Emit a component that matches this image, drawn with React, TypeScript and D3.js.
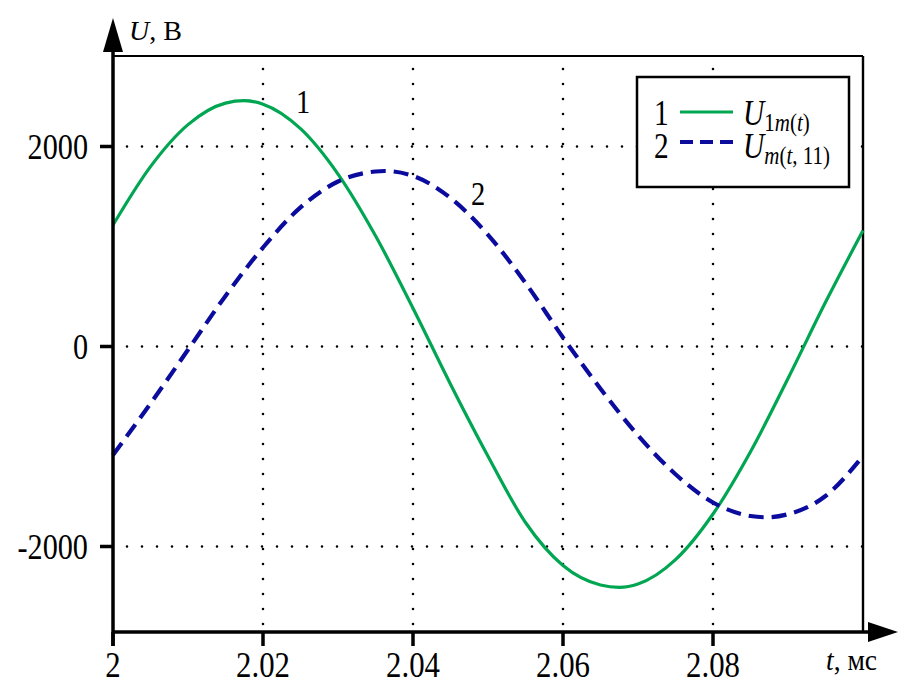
import * as d3 from 'd3';

// time points (ms) and voltage (V)
const tGreen = [2.0, 2.005, 2.01, 2.015, 2.0175, 2.02, 2.025, 2.03, 2.035, 2.04, 2.045, 2.05, 2.055, 2.06, 2.065, 2.0675, 2.07, 2.075, 2.08, 2.085, 2.09, 2.095, 2.1];
const uGreen = [1215, 1799, 2219, 2434, 2458, 2423, 2178, 1724, 1107, 383, -377, -1097, -1760, -2190, -2385, -2408, -2375, -2132, -1675, -1052, -320, 442, 1159];

const tBlue = [2.0, 2.005, 2.01, 2.015, 2.02, 2.025, 2.03, 2.035, 2.0362, 2.04, 2.045, 2.05, 2.055, 2.06, 2.065, 2.07, 2.075, 2.08, 2.085, 2.0872, 2.09, 2.095, 2.1];
const uBlue = [-1085, -570, -33, 506, 990, 1391, 1650, 1750, 1755, 1706, 1485, 1117, 635, 90, -422, -889, -1277, -1560, -1695, -1708, -1677, -1495, -1095];

const xTicks = [2, 2.02, 2.04, 2.06, 2.08];
const xTickLabels = ['2', '2.02', '2.04', '2.06', '2.08'];
const yTicks = [2000, 0, -2000];
const yTickLabels = ['2000', '0', '-2000'];

const GREEN = '#00a651';
const BLUE = '#0b0b9e';
const FONT = 'Liberation Serif';

function T({ x, y, size, anchor = 'start', sx = 0.84, children }: any) {
  return (
    <text
      transform={`translate(${x},${y}) scale(${sx},1)`}
      style={{ fontFamily: FONT, fontSize: size }}
      textAnchor={anchor}
      fill="#000"
    >
      {children}
    </text>
  );
}

export default function App() {
  const width = 906;
  const height = 683;
  const left = 113;
  const right = 863;
  const top = 56;
  const bottom = 632;

  const x = d3.scaleLinear().domain([2, 2.1]).range([left, right]);
  const y = d3.scaleLinear().domain([-2000, 2000]).range([546.5, 146.5]);

  const line = d3
    .line<[number, number]>()
    .x((d) => x(d[0]))
    .y((d) => y(d[1]))
    .curve(d3.curveMonotoneX);

  const greenPts = tGreen.map((t, i) => [t, uGreen[i]] as [number, number]);
  const bluePts = tBlue.map((t, i) => [t, uBlue[i]] as [number, number]);

  return (
    <svg width={width} height={height} style={{ position: 'absolute', left: 0, top: 0, background: '#fff' }}>
      {/* dotted grid */}
      <g stroke="#000" strokeWidth={2.6} strokeLinecap="round" strokeDasharray="0 15">
        {xTicks.slice(1).map((t) => (
          <line key={'gx' + t} x1={x(t)} x2={x(t)} y1={bottom - 8} y2={top + 2} />
        ))}
        {yTicks.map((v) => (
          <line key={'gy' + v} x1={left + 14} x2={right} y1={y(v)} y2={y(v)} />
        ))}
      </g>

      {/* frame top and right */}
      <line x1={left} x2={right} y1={top} y2={top} stroke="#000" strokeWidth={2.2} />
      <line x1={right} x2={right} y1={top} y2={bottom} stroke="#000" strokeWidth={2.4} />

      {/* curves */}
      <path d={line(greenPts) || ''} fill="none" stroke={GREEN} strokeWidth={3.2} />
      <path d={line(bluePts) || ''} fill="none" stroke={BLUE} strokeWidth={4.2} strokeDasharray="15 8" />

      {/* axes */}
      <line x1={left} x2={left} y1={bottom + 14} y2={48} stroke="#000" strokeWidth={3.5} />
      <path d={`M${left},18 L${left - 10},52 L${left + 10},52 Z`} fill="#000" />
      <line x1={left} x2={872} y1={bottom} y2={bottom} stroke="#000" strokeWidth={3.5} />
      <path d={`M898,${bottom} L868,${bottom - 10} L868,${bottom + 10} Z`} fill="#000" />

      {/* ticks */}
      {xTicks.map((t, i) => (
        <g key={'xt' + t}>
          <line x1={x(t)} x2={x(t)} y1={bottom} y2={bottom + 14} stroke="#000" strokeWidth={3.5} />
          <T x={x(t)} y={677} size={35} sx={0.88} anchor="middle">{xTickLabels[i]}</T>
        </g>
      ))}
      {yTicks.map((v, i) => (
        <g key={'yt' + v}>
          <line x1={left - 13} x2={left} y1={y(v)} y2={y(v)} stroke="#000" strokeWidth={3.5} />
          <T x={88} y={y(v) + 12} size={36} anchor="end">{yTickLabels[i]}</T>
        </g>
      ))}

      {/* axis titles */}
      <T x={129} y={40} size={28} sx={1}>
        <tspan fontStyle="italic">U</tspan>, B
      </T>
      <T x={826} y={670} size={29} sx={0.95}>
        <tspan fontStyle="italic">t</tspan>, мс
      </T>

      {/* curve labels */}
      <T x={296} y={113} size={34}>1</T>
      <T x={471} y={205} size={34}>2</T>

      {/* legend */}
      <rect x={637} y={77} width={212} height={110} fill="#fff" stroke="#000" strokeWidth={2.5} />
      <T x={654} y={125} size={35}>1</T>
      <line x1={680} x2={733} y1={112} y2={112} stroke={GREEN} strokeWidth={3.2} />
      <T x={743} y={125} size={35}>
        <tspan fontStyle="italic">U</tspan>
        <tspan fontSize={25} dy={6}>1</tspan>
        <tspan fontSize={25} fontStyle="italic">m</tspan>
        <tspan fontSize={25}>(</tspan>
        <tspan fontSize={25} fontStyle="italic">t</tspan>
        <tspan fontSize={25}>)</tspan>
      </T>
      <T x={654} y={158} size={35}>2</T>
      <line x1={680} x2={733} y1={142} y2={142} stroke={BLUE} strokeWidth={4.2} strokeDasharray="13 7" />
      <T x={743} y={158} size={35}>
        <tspan fontStyle="italic">U</tspan>
        <tspan fontSize={25} dy={6} fontStyle="italic">m</tspan>
        <tspan fontSize={25}>(</tspan>
        <tspan fontSize={25} fontStyle="italic">t</tspan>
        <tspan fontSize={25}>, 11)</tspan>
      </T>
    </svg>
  );
}
